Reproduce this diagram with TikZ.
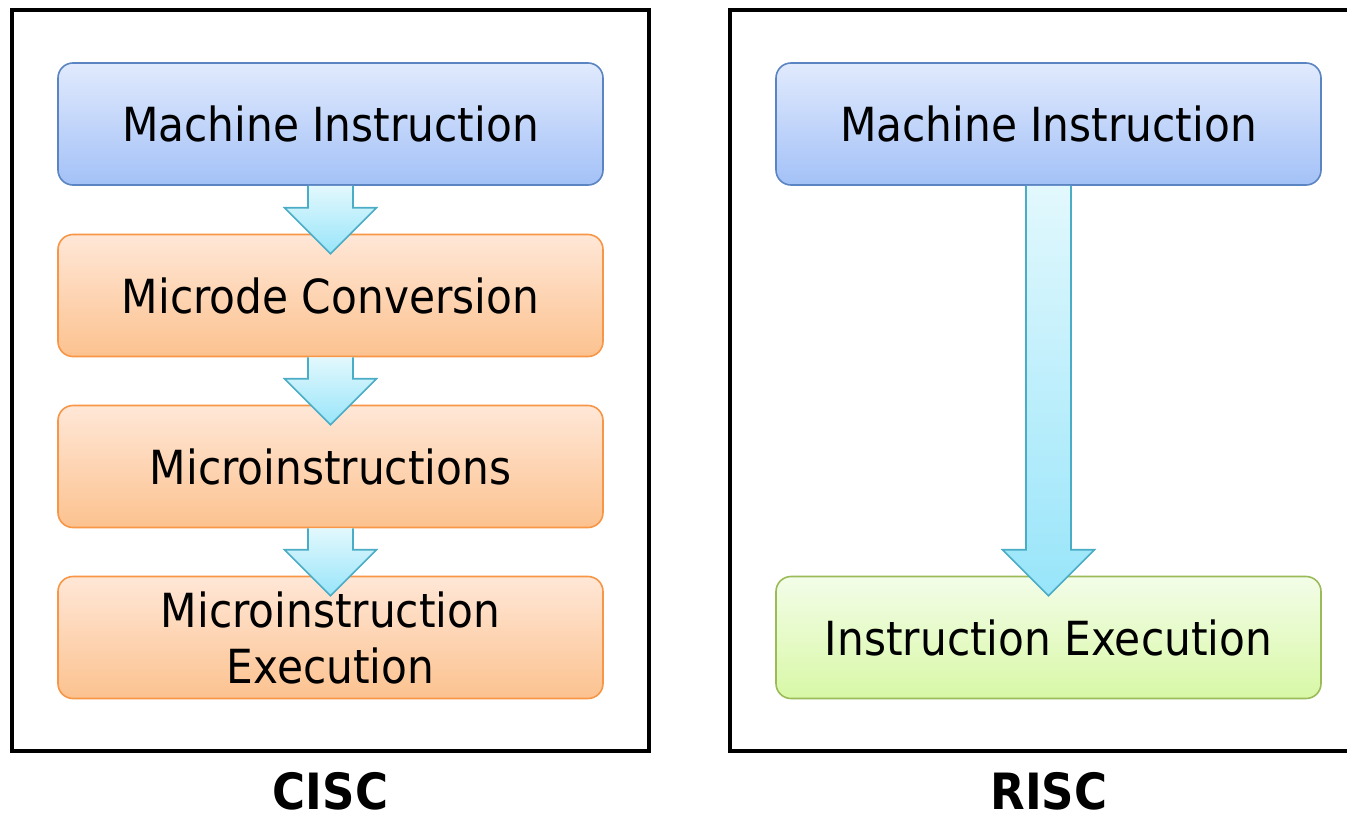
\documentclass[tikz,border=0pt]{standalone}
\usepackage{fontspec}
\setmainfont{DejaVu Sans Condensed}
\usetikzlibrary{calc}
\definecolor{blueTop}{HTML}{E1EAFD}
\definecolor{blueBot}{HTML}{A3C1F7}
\definecolor{blueLine}{HTML}{5A85C2}
\definecolor{orTop}{HTML}{FFE7D7}
\definecolor{orBot}{HTML}{FCC28F}
\definecolor{orLine}{HTML}{F79646}
\definecolor{grTop}{HTML}{F3FDE8}
\definecolor{grBot}{HTML}{D8F8A6}
\definecolor{grLine}{HTML}{9BBB59}
\definecolor{arTop}{HTML}{E2F8FD}
\definecolor{arBot}{HTML}{98E5FA}
\definecolor{arLine}{HTML}{4BACC6}
\tikzset{
  stage/.style={draw, line width=1.6pt, rounded corners=15pt,
    minimum width=545pt, minimum height=122pt, inner sep=0pt,
    align=center, font=\fontsize{47}{56}\selectfont},
  bluebox/.style={stage, draw=blueLine, top color=blueTop, bottom color=blueBot},
  orangebox/.style={stage, draw=orLine, top color=orTop, bottom color=orBot},
  greenbox/.style={stage, draw=grLine, top color=grTop, bottom color=grBot},
  frame/.style={draw=black, line width=4.5pt},
  blockarrow/.style={draw=arLine, line width=1.6pt, top color=arTop, bottom color=arBot, line join=miter},
  caption/.style={font=\fontsize{50}{60}\selectfont\bfseries, inner sep=0pt}
}
% shaft half-width, head half-width, wing offset above target, tip depth into target
\newcommand{\flowarrow}[2]{%
  \shade[blockarrow]
    ($(#1.south)+(-22.5,0)$) -- ($(#2.north)+(-22.5,-26)$) -- ($(#2.north)+(-46,-26)$)
    -- ($(#2.north)+(0,20)$) -- ($(#2.north)+(46,-26)$) -- ($(#2.north)+(22.5,-26)$)
    -- ($(#1.south)+(22.5,0)$);}
\begin{document}
\begin{tikzpicture}[x=1pt, y=-1pt]
  \useasboundingbox (0,0) rectangle (1347,814);
  \fill[white] (0,0) rectangle (1347,814);

  % outer frames
  \draw[frame] (12,10) rectangle (649,751);
  \draw[frame] (730,10) rectangle (1362,751);

  % CISC pipeline
  \node[bluebox]   (cm)  at (330.5,124)   {Machine Instruction};
  \node[orangebox] (cmc) at (330.5,295.5) {Microde Conversion};
  \node[orangebox] (cmi) at (330.5,466.5) {Microinstructions};
  \node[orangebox] (cme) at (330.5,637.5) {Microinstruction\\Execution};

  \flowarrow{cm}{cmc}
  \flowarrow{cmc}{cmi}
  \flowarrow{cmi}{cme}

  % RISC pipeline
  \node[bluebox]  (rm) at (1048.5,124)   {Machine Instruction};
  \node[greenbox] (re) at (1048.5,637.5) {Instruction Execution};

  \flowarrow{rm}{re}

  % captions
  \node[caption] (lc) at (330.5,791) {CISC};
  \node[caption] (rc) at (1049,791) {RISC};
\end{tikzpicture}
\end{document}
